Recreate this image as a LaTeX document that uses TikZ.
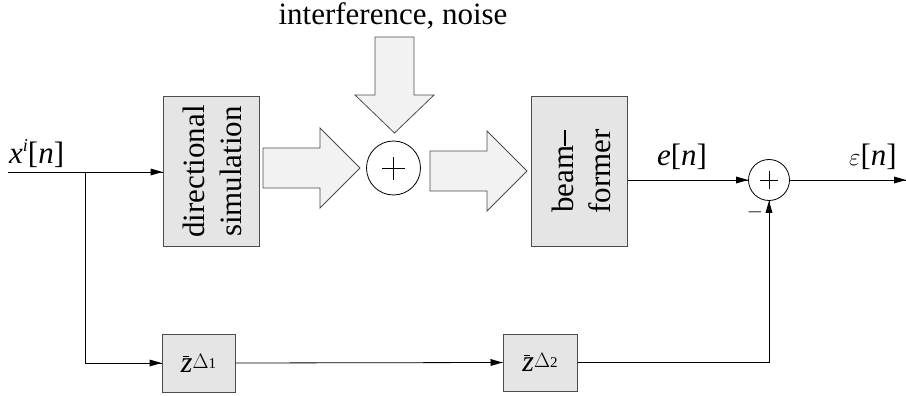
\documentclass[tikz,border=0pt]{standalone}
\usepackage{fontspec}
\setmainfont{Liberation Serif}
% slim filled arrow tip for the signal lines
\pgfarrowsdeclare{bigtri}{bigtri}{\pgfarrowsleftextend{-12pt}\pgfarrowsrightextend{0pt}}{%
  \pgfpathmoveto{\pgfqpoint{0pt}{0pt}}%
  \pgfpathlineto{\pgfqpoint{-12pt}{3.5pt}}%
  \pgfpathlineto{\pgfqpoint{-12pt}{-3.5pt}}%
  \pgfpathclose
  \pgfusepathqfill}
% delay operator z^{-Delta_k}
\newcommand{\delayop}[1]{{\itshape z}\llap{\rule[15.5pt]{6pt}{1pt}\kern4pt}\raisebox{4pt}{\fontsize{20}{20}\selectfont$\Delta$\fontsize{15}{15}\selectfont #1}}
\newcommand{\hyph}{\rule[0.24em]{0.5em}{1.3pt}}
\begin{document}
\begin{tikzpicture}[x=1pt,y=-1pt,
  txt/.style={font=\fontsize{31}{37}\selectfont},
  blockbox/.style={draw=black!70, fill=black!10, line width=1pt, inner sep=0pt},
  bigarrow/.style={draw=black!70, fill=black!5, line width=0.8pt},
  sumnode/.style={circle, draw, line width=0.8pt, inner sep=0pt},
  wire/.style={line width=0.8pt},
  sig/.style={wire, -bigtri}]
\useasboundingbox (0,0) rectangle (906,396);

% processing blocks
\node[blockbox, minimum width=96pt, minimum height=149pt] (dir) at (211,171.5) {};
\node[txt, rotate=90, align=center] (dirtext) at (212,171.5) {directional\\simulation};
\node[blockbox, minimum width=96pt, minimum height=149pt] (bf) at (579,171.5) {};
\node[txt, rotate=90, align=center] (bftext) at (581,171.5) {beam\hyph\\former};
\node[blockbox, minimum width=73pt, minimum height=58pt, font=\fontsize{30}{32}\selectfont] (d1) at (198.5,363) {\delayop{1}};
\node[blockbox, minimum width=74pt, minimum height=57pt, font=\fontsize{30}{32}\selectfont] (d2) at (540,362.5) {\delayop{2}};

% summing points
\node[sumnode, minimum size=54pt] (s1) at (393.5,168) {};
\draw[wire] ([xshift=-11.5pt]s1.center) -- ([xshift=11.5pt]s1.center);
\draw[wire] ([yshift=-11.5pt]s1.center) -- ([yshift=11.5pt]s1.center);
\node[sumnode, minimum size=41pt] (s2) at (769,180) {};
\draw[wire] ([xshift=-9pt]s2.center) -- ([xshift=9pt]s2.center);
\draw[wire] ([yshift=-9pt]s2.center) -- ([yshift=9pt]s2.center);

% wide arrows of the acoustic path
\draw[bigarrow] (263,148) -- (320,148) -- (320,128) -- (360,168) -- (320,208) -- (320,188) -- (263,188) -- cycle;
\draw[bigarrow] (430,151) -- (487,151) -- (487,131) -- (527,171) -- (487,211) -- (487,191) -- (430,191) -- cycle;
\draw[bigarrow] (375,37) -- (414,37) -- (414,95) -- (434,95) -- (394.5,133) -- (355,95) -- (375,95) -- cycle;
\node[txt, anchor=base] (noise) at (393,25) {interference, noise};

% signal lines
\coordinate (xin) at (8,172);
\coordinate (split) at (85,172);
\coordinate (out) at (906,180);
\draw[sig] (xin) -- (dir.west |- xin);
\draw[sig] (split) |- (d1.west);
\draw[sig] (d1.east) -- (d2.west);
\draw[sig] (d2.east) -| (s2.south);
\draw[sig] (bf.east |- s2) -- (s2.west);
\draw[sig] (s2.east) -- (out);

% labels
\node[txt, anchor=base west, inner sep=0pt] (xlab) at (9,163) {{\itshape x}\raisebox{12pt}{\fontsize{18}{18}\selectfont\itshape i}[{\itshape n}]};
\node[txt, anchor=base, inner sep=0pt] (elab) at (682,165) {{\itshape e}[{\itshape n}]};
\node[txt, anchor=base, inner sep=0pt] (eplab) at (873,165) {$\varepsilon$[{\itshape n}]};
\node[inner sep=0pt, font=\fontsize{22}{22}\selectfont] (minus) at (755,212) {$-$};
\end{tikzpicture}
\end{document}
